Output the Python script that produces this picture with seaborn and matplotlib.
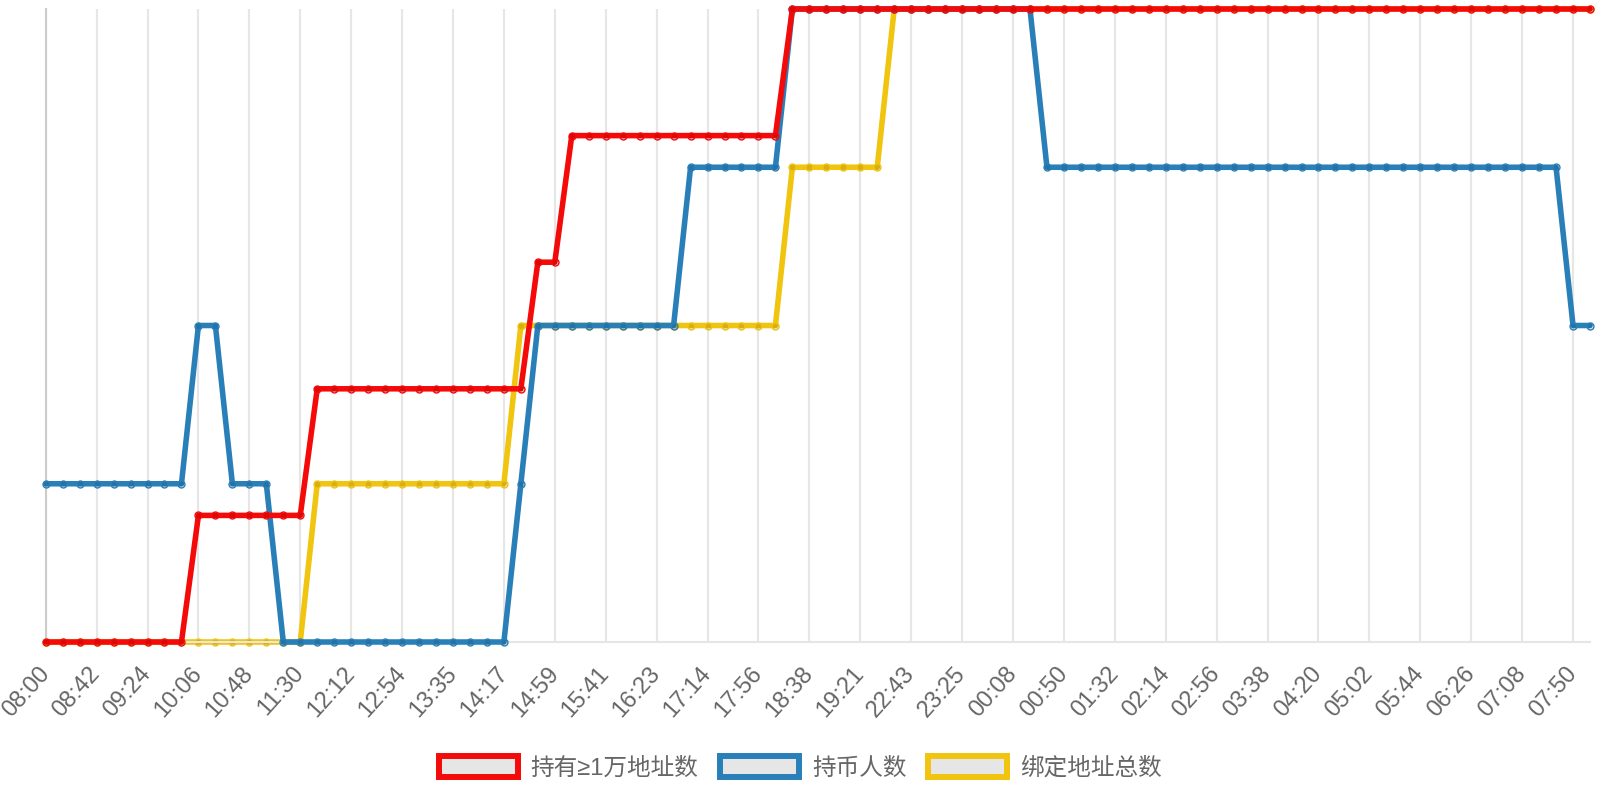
import matplotlib
matplotlib.use("Agg")
import matplotlib.pyplot as plt
from matplotlib.patches import Patch
import pandas as pd
import seaborn as sns

# x 轴刻度（每 3 个数据点一个标签）
tick_labels = ["08:00", "08:42", "09:24", "10:06", "10:48", "11:30", "12:12", "12:54",
               "13:35", "14:17", "14:59", "15:41", "16:23", "17:14", "17:56", "18:38",
               "19:21", "22:43", "23:25", "00:08", "00:50", "01:32", "02:14", "02:56",
               "03:38", "04:20", "05:02", "05:44", "06:26", "07:08", "07:50"]

series_names = ["持有≥1万地址数", "持币人数", "绑定地址总数"]

# 每条线各自一根（隐藏的）y 轴，数值按图上台阶读出
holders_10k = [0, 0, 0, 0, 0, 0, 0, 0, 0,
               1, 1, 1, 1, 1, 1, 1,
               2, 2, 2, 2, 2, 2, 2, 2, 2, 2, 2, 2, 2,
               3, 3,
               4, 4, 4, 4, 4, 4, 4, 4, 4, 4, 4, 4, 4,
               5, 5, 5, 5, 5, 5, 5, 5, 5, 5, 5, 5, 5, 5, 5, 5,
               5, 5, 5, 5, 5, 5, 5, 5, 5, 5, 5, 5, 5, 5, 5, 5,
               5, 5, 5, 5, 5, 5, 5, 5, 5, 5, 5, 5, 5, 5, 5, 5]

holders = [1, 1, 1, 1, 1, 1, 1, 1, 1,
           2, 2,
           1, 1, 1,
           0, 0, 0, 0, 0, 0, 0, 0, 0, 0, 0, 0, 0, 0,
           1,
           2, 2, 2, 2, 2, 2, 2, 2, 2,
           3, 3, 3, 3, 3, 3,
           4, 4, 4, 4, 4, 4, 4, 4, 4, 4, 4, 4, 4, 4, 4,
           3, 3, 3, 3, 3, 3, 3, 3, 3, 3, 3, 3, 3, 3, 3, 3,
           3, 3, 3, 3, 3, 3, 3, 3, 3, 3, 3, 3, 3, 3, 3,
           2, 2]

bound_addr = [0, 0, 0, 0, 0, 0, 0, 0, 0, 0, 0, 0, 0, 0, 0, 0,
              1, 1, 1, 1, 1, 1, 1, 1, 1, 1, 1, 1,
              2, 2, 2, 2, 2, 2, 2, 2, 2, 2, 2, 2, 2, 2, 2, 2,
              3, 3, 3, 3, 3, 3,
              4, 4, 4, 4, 4, 4, 4, 4, 4, 4, 4, 4, 4, 4, 4, 4, 4, 4, 4, 4, 4,
              4, 4, 4, 4, 4, 4, 4, 4, 4, 4, 4, 4, 4, 4, 4, 4, 4, 4, 4, 4, 4]

colors = ["#f50a0a", "#2980b9", "#f1c40f"]

df = pd.DataFrame({
    "idx": range(len(holders_10k)),
    "holders_10k": holders_10k,
    "holders": holders,
    "bound_addr": bound_addr,
})

sns.set_style("white")
plt.rcParams["font.family"] = ["Liberation Sans", "Noto Sans CJK SC", "DejaVu Sans"]

W, H = 1600, 800
fig = plt.figure(figsize=(16, 8), dpi=100)
left, right, top, bottom = 45.7, 1590, 9, 642
ax = fig.add_axes([left / W, 1 - bottom / H, (right - left) / W, (bottom - top) / H])
ax_blue = ax.twinx()
ax_red = ax.twinx()

line_kw = dict(linewidth=4.0, marker="o", markersize=5.0,
               markeredgewidth=1.0, clip_on=False, legend=False)

# 绘制顺序：黄在最下，红在最上
sns.lineplot(data=df, x="idx", y="bound_addr", ax=ax, color=colors[2],
             markeredgecolor=colors[2], **line_kw)
sns.lineplot(data=df, x="idx", y="holders", ax=ax_blue, color=colors[1],
             markeredgecolor=colors[1], **line_kw)
sns.lineplot(data=df, x="idx", y="holders_10k", ax=ax_red, color=colors[0],
             markeredgecolor=colors[0], **line_kw)

n = len(holders_10k)
for a, vals in [(ax, bound_addr), (ax_blue, holders), (ax_red, holders_10k)]:
    for ln in a.lines:
        ln.set_markerfacecolor((0, 0, 0, 0.1))
    a.set_xlim(0, n - 1)
    a.set_ylim(min(vals), max(vals))
    a.set_yticks([])
    a.set_ylabel("")
    a.set_xlabel("")
    for s in a.spines.values():
        s.set_visible(False)

ax.set_xticks(range(0, n, 3))
ax.set_xticklabels(tick_labels, rotation=48, ha="right", va="center",
                   rotation_mode="anchor", fontsize=17, color="#666666")
ax.tick_params(axis="x", length=11, width=1.5, color="#e6e6e6", pad=9)
ax.grid(axis="x", color="#e6e6e6", linewidth=1.5)
ax.grid(axis="y", visible=False)
ax.set_axisbelow(True)
ax.spines["bottom"].set_visible(True)
ax.spines["bottom"].set_color("#e6e6e6")
ax.spines["bottom"].set_linewidth(1.5)
ax.spines["left"].set_visible(True)
ax.spines["left"].set_color("#cccccc")
ax.spines["left"].set_linewidth(1.5)

handles = [Patch(facecolor="#e6e6e6", edgecolor=c, linewidth=4.3) for c in colors]
leg = fig.legend(handles, series_names, loc="center", bbox_to_anchor=(0.5, 1 - 768 / H),
                 ncol=3, frameon=False, handlelength=3.35, handleheight=1.0,
                 handletextpad=0.55, columnspacing=0.9,
                 prop={"family": ["Liberation Sans", "Noto Sans CJK SC"], "size": 17})
for t in leg.get_texts():
    t.set_color("#666666")

fig.savefig("out.png", dpi=100)
